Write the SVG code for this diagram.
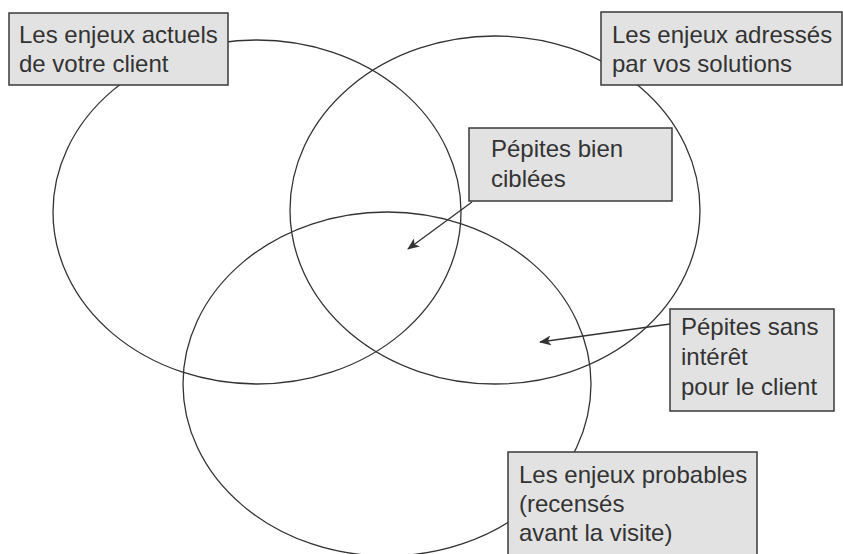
<svg xmlns="http://www.w3.org/2000/svg" width="843" height="554" viewBox="0 0 843 554">
<style>
.e{fill:none;stroke:#333;stroke-width:1.3}
.b{fill:#e2e2e2;stroke:#3a3a3a;stroke-width:1.5}
.t{font-family:"Liberation Sans",Arial,sans-serif;font-size:24px;fill:#333}
.c{stroke:#333;stroke-width:1.3;fill:none;marker-end:url(#ah)}
</style>
<defs>
<marker id="ah" viewBox="0 0 12 10" refX="11" refY="5" markerWidth="12" markerHeight="10" markerUnits="userSpaceOnUse" orient="auto">
<path d="M0,0 L12,5 L0,10 L3,5 Z" fill="#333"/>
</marker>
</defs>
<rect width="843" height="554" fill="#fff"/>
<g id="ellipses">
<ellipse id="ell-actuels" class="e" cx="257" cy="212" rx="204" ry="172"/>
<ellipse id="ell-adresses" class="e" cx="495" cy="210" rx="205" ry="174"/>
<ellipse id="ell-probables" class="e" cx="387" cy="384" rx="204" ry="172"/>
</g>
<g id="connectors">
<line class="c" x1="472" y1="202" x2="408" y2="249"/>
<line class="c" x1="670" y1="324" x2="540" y2="342"/>
</g>
<g id="box-actuels">
<rect class="b" x="9" y="13" width="219" height="72"/>
<text class="t" x="19" y="43">Les enjeux actuels</text>
<text class="t" x="19" y="72">de votre client</text>
</g>
<g id="box-adresses">
<rect class="b" x="601" y="12" width="241" height="73"/>
<text class="t" x="612" y="43">Les enjeux adressés</text>
<text class="t" x="612" y="72">par vos solutions</text>
</g>
<g id="box-ciblees">
<rect class="b" x="469" y="128" width="203" height="73"/>
<text class="t" x="491" y="157">Pépites bien</text>
<text class="t" x="491" y="187">ciblées</text>
</g>
<g id="box-sans-interet">
<rect class="b" x="670" y="309" width="164" height="102"/>
<text class="t" x="681" y="335">Pépites sans</text>
<text class="t" x="681" y="365">intérêt</text>
<text class="t" x="681" y="395">pour le client</text>
</g>
<g id="box-probables">
<rect class="b" x="508" y="452" width="249" height="110"/>
<text class="t" x="519" y="483">Les enjeux probables</text>
<text class="t" x="519" y="512">(recensés</text>
<text class="t" x="519" y="541">avant la visite)</text>
</g>
</svg>
